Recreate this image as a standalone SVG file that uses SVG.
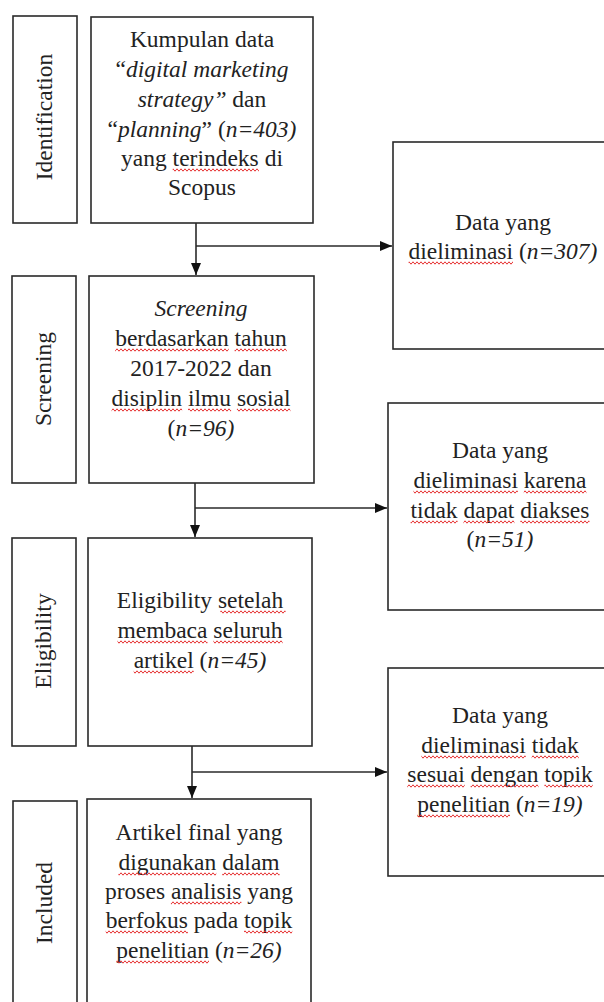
<svg xmlns="http://www.w3.org/2000/svg" width="604" height="1002" viewBox="0 0 604 1002">
<style>
.box{fill:#fff;stroke:#2a2a2a;stroke-width:1.6}
.t{font-family:"Liberation Serif","Times New Roman",serif;font-size:23.5px;fill:#222;text-anchor:middle}
.i{font-style:italic}
.sq{fill:url(#wave)}
.ln{fill:none;stroke:#2a2a2a;stroke-width:1.6}
</style>
<defs>
<marker id="ah" markerWidth="12" markerHeight="10" refX="12" refY="5" orient="auto" markerUnits="userSpaceOnUse">
<path d="M0,0 L12,5 L0,10 Z" fill="#111"/>
</marker>
<pattern id="wave" width="4" height="4" patternUnits="userSpaceOnUse">
<path d="M-1,3.2 L1,0.8 L3,3.2 L5,0.8" fill="none" stroke="#e53030" stroke-width="1"/>
</pattern>
</defs>
<rect width="604" height="1002" fill="#fff"/>

<g id="label-identification">
<rect class="box" x="13" y="16" width="64" height="207"/>
<text class="t" transform="translate(52,117) rotate(-90)">Identification</text>
</g>
<g id="label-screening">
<rect class="box" x="12" y="276" width="64" height="207"/>
<text class="t" transform="translate(51,379) rotate(-90)">Screening</text>
</g>
<g id="label-eligibility">
<rect class="box" x="12" y="538" width="64" height="208"/>
<text class="t" transform="translate(51,641) rotate(-90)">Eligibility</text>
</g>
<g id="label-included">
<rect class="box" x="13" y="801" width="64" height="220"/>
<text class="t" transform="translate(52,903) rotate(-90)">Included</text>
</g>

<g id="node-identification">
<rect class="box" x="91" y="17" width="222" height="206"/>
<text class="t" x="202" y="47">Kumpulan data</text>
<text class="t" x="202" y="77">“<tspan class="i">digital marketing</tspan></text>
<text class="t" x="202" y="107"><tspan class="i">strategy”</tspan> dan</text>
<text class="t" x="202" y="137">“<tspan class="i">planning</tspan>” (<tspan class="i">n=403)</tspan></text>
<text class="t" x="202" y="166">yang terindeks di</text>
<text class="t" x="202" y="195">Scopus</text>
<g transform="translate(0,168)"><rect class="sq" x="172.7" y="0" width="86.2" height="4"/></g>
</g>

<g id="node-excluded-1">
<rect class="box" x="393" y="142" width="222" height="207"/>
<text class="t" x="503" y="230">Data yang</text>
<text class="t" x="503" y="259">dieliminasi (<tspan class="i">n=307)</tspan></text>
<g transform="translate(0,261)"><rect class="sq" x="408.6" y="0" width="104.4" height="4"/></g>
</g>

<g id="node-screening">
<rect class="box" x="89" y="276" width="225" height="207"/>
<text class="t" x="201" y="316"><tspan class="i">Screening</tspan></text>
<text class="t" x="201" y="346">berdasarkan tahun</text>
<text class="t" x="201" y="376">2017-2022 dan</text>
<text class="t" x="201" y="406">disiplin ilmu sosial</text>
<text class="t" x="201" y="436">(<tspan class="i">n=96)</tspan></text>
<g transform="translate(0,348)"><rect class="sq" x="115.2" y="0" width="113.5" height="4"/><rect class="sq" x="234.6" y="0" width="52.2" height="4"/></g>
<g transform="translate(0,408)"><rect class="sq" x="111.6" y="0" width="70.5" height="4"/><rect class="sq" x="188" y="0" width="43.1" height="4"/><rect class="sq" x="236.9" y="0" width="53.5" height="4"/></g>
</g>

<g id="node-excluded-2">
<rect class="box" x="388" y="403" width="226" height="207"/>
<text class="t" x="500" y="458">Data yang</text>
<text class="t" x="500" y="488">dieliminasi karena</text>
<text class="t" x="500" y="518">tidak dapat diakses</text>
<text class="t" x="500" y="547">(<tspan class="i">n=51)</tspan></text>
<g transform="translate(0,490)"><rect class="sq" x="413.5" y="0" width="104.4" height="4"/><rect class="sq" x="523.8" y="0" width="62.6" height="4"/></g>
<g transform="translate(0,520)"><rect class="sq" x="410.6" y="0" width="47" height="4"/><rect class="sq" x="463.5" y="0" width="50.9" height="4"/><rect class="sq" x="520.3" y="0" width="69.2" height="4"/></g>
</g>

<g id="node-eligibility">
<rect class="box" x="88" y="538" width="224" height="208"/>
<text class="t" x="200" y="608">Eligibility setelah</text>
<text class="t" x="200" y="638">membaca seluruh</text>
<text class="t" x="200" y="668">artikel (<tspan class="i">n=45)</tspan></text>
<g transform="translate(0,610)"><rect class="sq" x="220.3" y="0" width="65.3" height="4"/></g>
<g transform="translate(0,640)"><rect class="sq" x="117.5" y="0" width="90" height="4"/><rect class="sq" x="213.4" y="0" width="69.2" height="4"/></g>
<g transform="translate(0,670)"><rect class="sq" x="133.7" y="0" width="60" height="4"/></g>
</g>

<g id="node-excluded-3">
<rect class="box" x="388" y="668" width="226" height="208"/>
<text class="t" x="500" y="723">Data yang</text>
<text class="t" x="500" y="753">dieliminasi tidak</text>
<text class="t" x="500" y="782">sesuai dengan topik</text>
<text class="t" x="500" y="812">penelitian (<tspan class="i">n=19)</tspan></text>
<g transform="translate(0,755)"><rect class="sq" x="421.4" y="0" width="104.4" height="4"/><rect class="sq" x="531.7" y="0" width="47" height="4"/></g>
<g transform="translate(0,784)"><rect class="sq" x="407.3" y="0" width="57.4" height="4"/><rect class="sq" x="470.6" y="0" width="67.9" height="4"/><rect class="sq" x="544.4" y="0" width="48.3" height="4"/></g>
<g transform="translate(0,814)"><rect class="sq" x="417.3" y="0" width="92.7" height="4"/></g>
</g>

<g id="node-included">
<rect class="box" x="87" y="799" width="224" height="220"/>
<text class="t" x="199" y="840">Artikel final yang</text>
<text class="t" x="199" y="870">digunakan dalam</text>
<text class="t" x="199" y="899">proses analisis yang</text>
<text class="t" x="199" y="928">berfokus pada topik</text>
<text class="t" x="199" y="958">penelitian (<tspan class="i">n=26)</tspan></text>
<g transform="translate(0,872)"><rect class="sq" x="118.4" y="0" width="97.9" height="4"/><rect class="sq" x="222.2" y="0" width="57.4" height="4"/></g>
<g transform="translate(0,901)"><rect class="sq" x="170.9" y="0" width="70.5" height="4"/></g>
<g transform="translate(0,930)"><rect class="sq" x="105.7" y="0" width="82.2" height="4"/><rect class="sq" x="244" y="0" width="48.3" height="4"/></g>
<g transform="translate(0,960)"><rect class="sq" x="116.3" y="0" width="92.7" height="4"/></g>
</g>

<g id="connectors">
<line class="ln" x1="196" y1="223" x2="196" y2="275" marker-end="url(#ah)"/>
<line class="ln" x1="196" y1="246" x2="392" y2="246" marker-end="url(#ah)"/>
<line class="ln" x1="195" y1="483" x2="195" y2="537" marker-end="url(#ah)"/>
<line class="ln" x1="195" y1="508" x2="387" y2="508" marker-end="url(#ah)"/>
<line class="ln" x1="192" y1="746" x2="192" y2="798" marker-end="url(#ah)"/>
<line class="ln" x1="192" y1="772" x2="387" y2="772" marker-end="url(#ah)"/>
</g>
</svg>
